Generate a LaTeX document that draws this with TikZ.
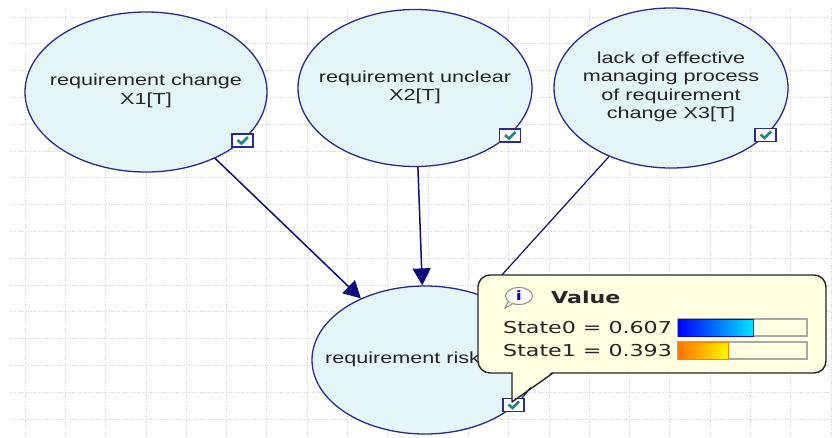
\documentclass[tikz,border=0pt]{standalone}
\usepackage{fontspec}
\usetikzlibrary{arrows.meta,shapes.geometric}
\newfontfamily\nodefont[FakeStretch=1.35]{Liberation Sans}
\newfontfamily\tipfont[FakeStretch=1.35]{DejaVu Sans}
\definecolor{navy}{HTML}{2A2A96}
\definecolor{edgenavy}{HTML}{0C0C80}
\definecolor{nodefill}{HTML}{E4F5F7}
\definecolor{gridgray}{HTML}{D6D6D6}
\definecolor{checkteal}{HTML}{23877E}
\definecolor{tipfill}{HTML}{FFFFE1}
\definecolor{txtgray}{HTML}{252525}
\definecolor{bargray}{HTML}{A8A8A8}
\begin{document}
\begin{tikzpicture}[x=1pt,y=-1pt,
  gridline/.style={draw=gridgray,line width=0.8pt,dash pattern=on 1.2pt off 1.4pt},
  bnode/.style={ellipse,draw=navy,line width=1.3pt,fill=nodefill,inner sep=0pt},
  ntext/.style={align=center,text=txtgray,inner sep=0pt,font=\nodefont\fontsize{16}{18.5}\selectfont},
  cbox/.style={draw=navy,line width=1.1pt,fill=white,minimum width=21pt,minimum height=13pt,inner sep=0pt},
  checkmk/.style={draw=checkteal,line width=2.6pt},
  edge/.style={draw=edgenavy,line width=1.5pt,-{Triangle[width=18pt,length=17pt]}},
  ttext/.style={anchor=west,inner sep=0pt,text=txtgray,font=\tipfont\fontsize{16.4}{19}\selectfont}]
\useasboundingbox (0,0) rectangle (832,437);
\fill[white] (0,0) rectangle (832,437);
% grid
\foreach \i in {0,...,15} \draw[gridline] (10,17+26.8*\i) -- (832,17+26.8*\i);
\foreach \i in {0,...,20} \draw[gridline] (25+40.3*\i,8) -- (25+40.3*\i,437);
% nodes
\node[bnode,minimum width=242pt,minimum height=160pt] (x1) at (146,92) {};
\node[bnode,minimum width=234pt,minimum height=157pt] (x2) at (415,88) {};
\node[bnode,minimum width=234pt,minimum height=160pt] (x3) at (671,88) {};
\node[bnode,minimum width=226pt,minimum height=148pt] (risk) at (425,360) {};
% edges
\draw[edge] (x1) -- (risk);
\draw[edge] (x2) -- (risk);
\draw[edge,line width=1.2pt] (x3) -- (risk);
% texts
\node[ntext] (t1) at (146,91) {requirement change\\X1[T]};
\node[ntext] (t2) at (415,87.5) {requirement unclear\\X2[T]};
\node[ntext] (t3) at (671,87) {lack of effective\\managing process\\of requirement\\change X3[T]};
\node[ntext,anchor=west] (t4) at (325,359) {requirement risk};
% checkboxes
\foreach \n/\p in {c1/{(242.5,140.5)},c2/{(510,135.5)},c3/{(765.5,135)},c4/{(513.5,405)}}{
  \node[cbox] (\n) at \p {};
  \draw[checkmk] ([shift={(-5,-0.5)}]\n.center) -- ([shift={(-1,3)}]\n.center) -- ([shift={(5.5,-3.5)}]\n.center);
}
% callout
\fill[tipfill,rounded corners=12pt] (478,275) rectangle (826,373);
\draw[black!85,line width=1.4pt,rounded corners=12pt] (478,275) rectangle (826,373);
\fill[tipfill] (512.7,371) -- (553,371) -- (512.7,400) -- cycle;
\draw[black!85,line width=1.4pt,line join=round] (553,373) -- (512,402) -- (512,373);
% info icon
\fill[white,draw=black!45,line width=1pt] (509,300) -- (505,308) -- (514,303) -- cycle;
\node[ellipse,draw=black!45,line width=1pt,fill=white,minimum width=27pt,minimum height=17pt,inner sep=0pt] (info) at (519,296) {};
\fill[white] (508,300) -- (511,303) -- (513,301) -- cycle;
\node[text=blue!85!black,inner sep=0pt,font=\tipfont\bfseries\fontsize{13}{13}\selectfont] (infoi) at (519,296) {i};
\node[ttext,font=\tipfont\bfseries\fontsize{16.4}{19}\selectfont,text=black!85] (val) at (551,297) {Value};
\node[ttext] (s0) at (503,327.5) {State0 = 0.607};
\node[ttext] (s1) at (503,350.5) {State1 = 0.393};
% bars
\draw[bargray,line width=1.2pt] (678,319) rectangle (807,336);
\shade[left color=blue,right color=cyan!90!blue] (678,319) rectangle (753,336);
\draw[blue,line width=1pt] (678,319) rectangle (753,336);
\draw[bargray,line width=1.2pt] (678,342) rectangle (807,359);
\shade[left color=orange!90!red,right color=yellow!95!orange] (678,342) rectangle (728,359);
\draw[orange,line width=1pt] (678,342) rectangle (728,359);
\end{tikzpicture}
\end{document}
